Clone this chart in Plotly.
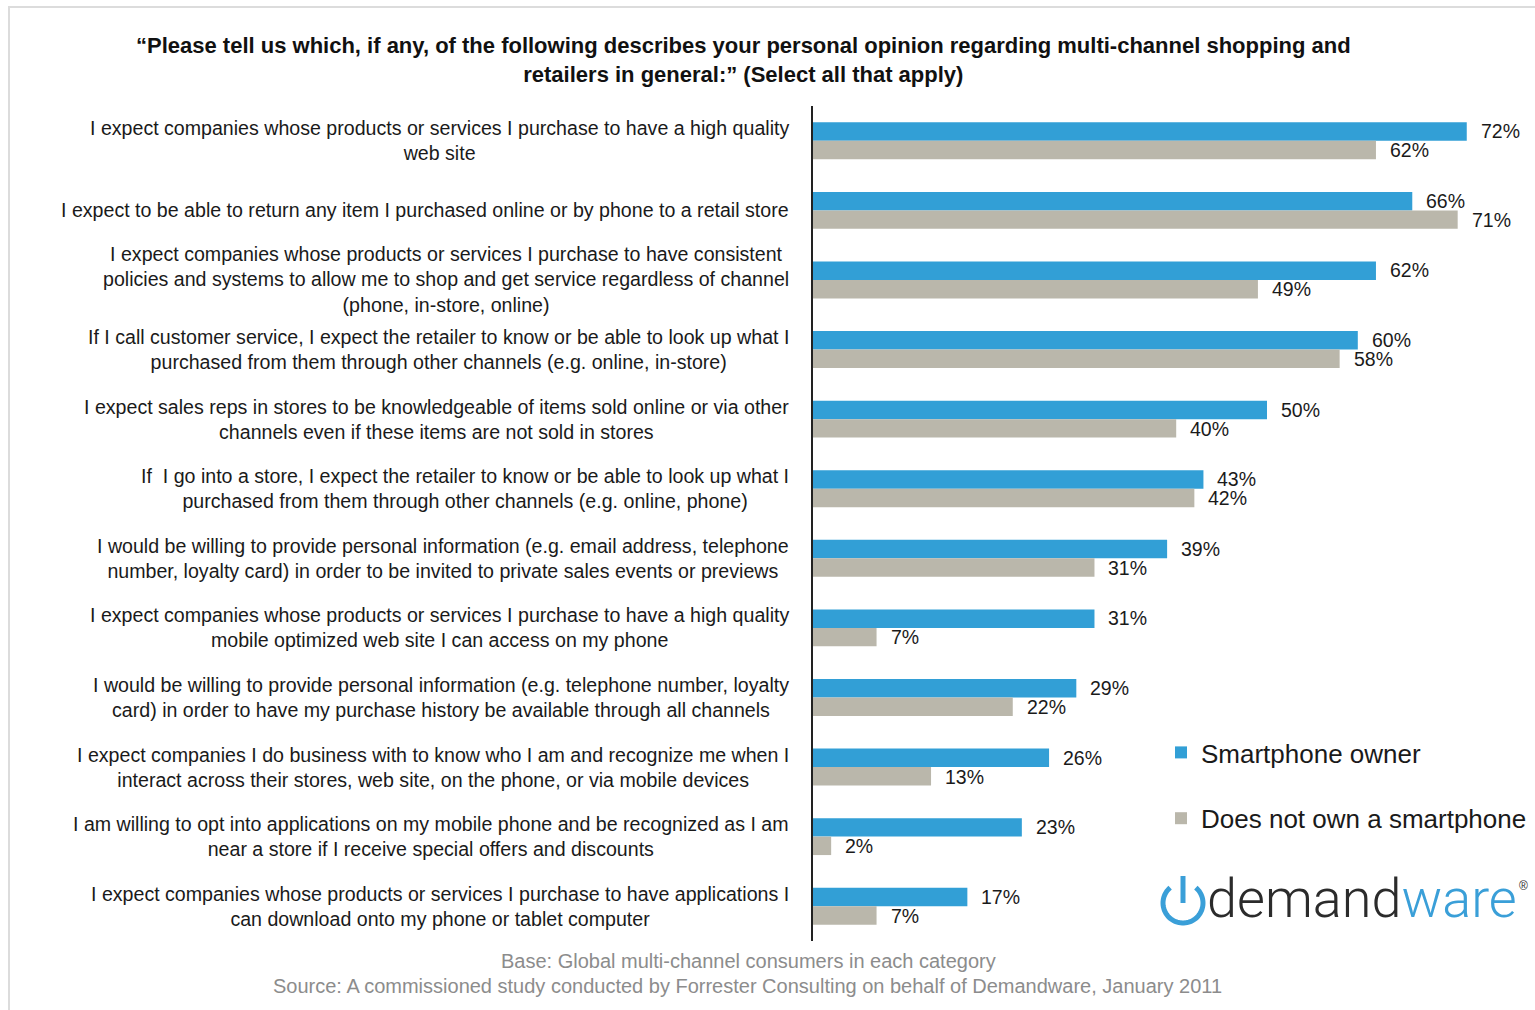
import plotly.graph_objects as go
import numpy as np

categories = [
    "I expect companies whose products or services I purchase to have a high quality<br>web site",
    "I expect to be able to return any item I purchased online or by phone to a retail store",
    "I expect companies whose products or services I purchase to have consistent<br>policies and systems to allow me to shop and get service regardless of channel<br>(phone, in-store, online)",
    "If I call customer service, I expect the retailer to know or be able to look up what I<br>purchased from them through other channels (e.g. online, in-store)",
    "I expect sales reps in stores to be knowledgeable of items sold online or via other<br>channels even if these items are not sold in stores",
    "If  I go into a store, I expect the retailer to know or be able to look up what I<br>purchased from them through other channels (e.g. online, phone)",
    "I would be willing to provide personal information (e.g. email address, telephone<br>number, loyalty card) in order to be invited to private sales events or previews",
    "I expect companies whose products or services I purchase to have a high quality<br>mobile optimized web site I can access on my phone",
    "I would be willing to provide personal information (e.g. telephone number, loyalty<br>card) in order to have my purchase history be available through all channels",
    "I expect companies I do business with to know who I am and recognize me when I<br>interact across their stores, web site, on the phone, or via mobile devices",
    "I am willing to opt into applications on my mobile phone and be recognized as I am<br>near a store if I receive special offers and discounts",
    "I expect companies whose products or services I purchase to have applications I<br>can download onto my phone or tablet computer",
]
smartphone_owner = [72, 66, 62, 60, 50, 43, 39, 31, 29, 26, 23, 17]
no_smartphone = [62, 71, 49, 58, 40, 42, 31, 7, 22, 13, 2, 7]
series_names = ["Smartphone owner", "Does not own a smartphone"]

title_text = ("“Please tell us which, if any, of the following describes your personal opinion regarding multi-channel shopping and<br>"
              "retailers in general:” (Select all that apply)")
base_text = "Base: Global multi-channel consumers in each category"
source_text = "Source: A commissioned study conducted by Forrester Consulting on behalf of Demandware, January 2011"

W, H = 1535, 1010
L, R, T, B = 813, 1535, 106, 941
PW, PH = R - L, B - T
px_per_pct = 9.08

def px(x):
    return (x - L) / PW

def py(y):
    return (B - y) / PH

BLUE = "#329fd6"
GRAY = "#bab7ab"
FONT = "Liberation Sans, Arial, sans-serif"

fig = go.Figure()
fig.add_trace(go.Bar(y=categories, x=smartphone_owner, orientation="h", name=series_names[0],
                     marker=dict(color=BLUE, line=dict(width=0)), legendgroup="a"))
fig.add_trace(go.Bar(y=categories, x=no_smartphone, orientation="h", name=series_names[1],
                     marker=dict(color=GRAY, line=dict(width=0)), legendgroup="b"))

annotations = []
for c in categories:
    annotations.append(dict(x=px(791), xref="paper", y=c, yref="y", text=c, showarrow=False,
                            xanchor="right", yanchor="middle", align="center",
                            font=dict(family=FONT, size=19.6, color="#1a1a1a")))
for c, v in zip(categories, smartphone_owner):
    annotations.append(dict(x=v, y=c, xref="x", yref="y", text=f"{v}%", showarrow=False,
                            xanchor="left", yanchor="middle", xshift=12, yshift=9.5,
                            font=dict(family=FONT, size=19.5, color="#1a1a1a")))
for c, v in zip(categories, no_smartphone):
    annotations.append(dict(x=v, y=c, xref="x", yref="y", text=f"{v}%", showarrow=False,
                            xanchor="left", yanchor="middle", xshift=12, yshift=-9.5,
                            font=dict(family=FONT, size=19.5, color="#1a1a1a")))

annotations.append(dict(x=px(743), y=py(60), xref="paper", yref="paper", text="<b>" + title_text + "</b>",
                        showarrow=False, xanchor="center", yanchor="middle", align="center",
                        font=dict(family=FONT, size=22, color="#111111")))
annotations.append(dict(x=px(748), y=py(961), xref="paper", yref="paper", text=base_text,
                        showarrow=False, xanchor="center", yanchor="middle",
                        font=dict(family=FONT, size=20, color="#8c8c8c")))
annotations.append(dict(x=px(747), y=py(986), xref="paper", yref="paper", text=source_text,
                        showarrow=False, xanchor="center", yanchor="middle",
                        font=dict(family=FONT, size=20, color="#8c8c8c")))
# logo text
annotations.append(dict(x=px(1205), y=py(898), xref="paper", yref="paper",
                        text="<span style='color:#2b2b2b'>demand</span><span style='color:#3a9fd8'>ware</span>",
                        showarrow=False, xanchor="left", yanchor="middle",
                        font=dict(family="Roboto, sans-serif", size=54, weight=300)))
annotations.append(dict(x=px(1517), y=py(886), xref="paper", yref="paper", text="®",
                        showarrow=False, xanchor="left", yanchor="middle",
                        font=dict(family=FONT, size=12, color="#2b2b2b")))

shapes = []
# outer light border
shapes.append(dict(type="path", xref="paper", yref="paper",
                   path=f"M {px(9)},{py(1012)} L {px(9)},{py(7)} L {px(1540)},{py(7)}",
                   line=dict(color="#dcdcdc", width=2)))
# power icon
cx, cy, r = 1183, 903, 20
ang = np.radians(np.linspace(40, 320, 60))
pts = [(cx + r * np.sin(a), cy - r * np.cos(a)) for a in ang]
path = "M " + " L ".join(f"{px(x)},{py(y)}" for x, y in pts)
shapes.append(dict(type="path", xref="paper", yref="paper", path=path,
                   line=dict(color="#3a9fd8", width=5)))
shapes.append(dict(type="line", xref="paper", yref="paper", x0=px(cx), x1=px(cx), y0=py(876), y1=py(903),
                   line=dict(color="#3a9fd8", width=5)))

fig.update_layout(
    width=W, height=H,
    margin=dict(l=L, r=W - R, t=T, b=H - B, pad=0),
    paper_bgcolor="white", plot_bgcolor="white",
    barmode="group", bargap=0.47, bargroupgap=0,
    showlegend=True,
    legend=dict(x=px(1161), y=py(729), xanchor="left", yanchor="top",
                font=dict(family=FONT, size=26, color="#1a1a1a"),
                tracegroupgap=29, bgcolor="rgba(0,0,0,0)", traceorder="grouped"),
    xaxis=dict(range=[0, PW / px_per_pct], visible=False, fixedrange=True),
    yaxis=dict(autorange="reversed", showticklabels=False, ticks="", showgrid=False,
               showline=True, linecolor="#222222", linewidth=1.5, zeroline=False),
    annotations=annotations,
    shapes=shapes,
)

fig.write_html("out.html")
